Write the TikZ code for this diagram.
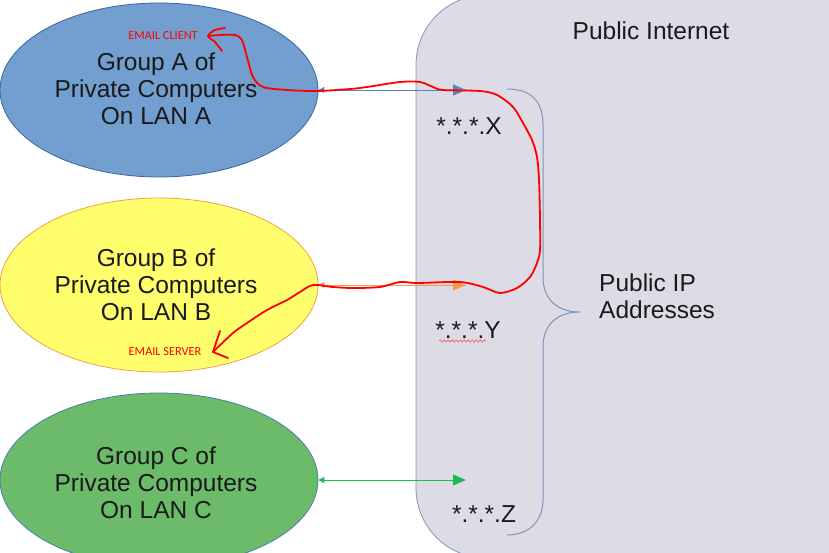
\documentclass[tikz,border=0pt]{standalone}
\usepackage{fontspec}
\setmainfont{Liberation Sans}
\newfontfamily\notefont{Carlito}
\usetikzlibrary{shapes.geometric,arrows.meta,decorations.pathmorphing}
\definecolor{netfill}{HTML}{DDDCE6}
\definecolor{netline}{HTML}{7E95BA}
\definecolor{afill}{HTML}{729FCF}
\definecolor{aline}{HTML}{3465A4}
\definecolor{bfill}{HTML}{FFFF6D}
\definecolor{bline}{HTML}{F0A040}
\definecolor{cfill}{HTML}{6CBB6A}
\definecolor{cline}{HTML}{4A7FA8}
\definecolor{aarrow}{HTML}{5B84BA}
\definecolor{barrow}{HTML}{F5994A}
\definecolor{carrow}{HTML}{1DB954}
\definecolor{txt}{HTML}{1A1A1A}
\begin{document}
\begin{tikzpicture}[x=1pt,y=-1pt,
  grp/.style={ellipse,draw,line width=0.8pt,minimum width=318pt,minimum height=174pt,inner sep=0pt},
  big/.style={font=\fontsize{24.5}{27}\selectfont,text=txt,inner sep=0pt},
  note/.style={font=\notefont\fontsize{12.3}{14}\selectfont,text=red,inner sep=0pt},
  link/.style={line width=1pt,{Triangle[length=6pt,width=6pt]}-{Triangle[length=13pt,width=11pt]}},
  ink/.style={red,line width=1.8pt,line cap=round,line join=round}
]
\useasboundingbox (0,0) rectangle (829,552);
\begin{scope}
\clip (0,0) rectangle (829,552);
\fill[white] (0,0) rectangle (829,552);
% public internet area
\draw[netline,fill=netfill,line width=0.8pt,rounded corners=70pt] (416,-5) rectangle (900,558);
\node[big] (pi) at (651,31) {Public Internet};
% brace
\draw[netline,line width=1pt] (507,89) .. controls (530,89) and (543,100) .. (543,125) -- (543,277)
  .. controls (543,300) and (558,312) .. (580,312)
  .. controls (558,312) and (543,324) .. (543,347) -- (543,500)
  .. controls (543,520) and (530,535) .. (507,535);
\node[big,anchor=west,align=left] (pip) at (599,296) {Public IP\\Addresses};
% groups
\node[grp,fill=afill,draw=aline] (A) at (159,90) {};
\node[grp,fill=bfill,draw=bline] (B) at (159,285) {};
\node[grp,fill=cfill,draw=cline] (C) at (159,480) {};
\node[big,align=center] (ta) at (156,89) {Group A of\\Private Computers\\On LAN A};
\node[big,align=center] (tb) at (156,285) {Group B of\\Private Computers\\On LAN B};
\node[big,align=center] (tc) at (156,483) {Group C of\\Private Computers\\On LAN C};
% addresses
\node[big] (x) at (469,126) {*.*.*.X};
\node[big] (y) at (468,330) {*.*.*.Y};
\node[big] (z) at (484,514) {*.*.*.Z};
\draw[red!75,line width=0.5pt,decorate,decoration={snake,amplitude=1.2pt,segment length=4pt}] (439,341) -- (486,341);
% links
\coordinate (xa) at (466,90);
\coordinate (xb) at (466,285);
\coordinate (xc) at (466,480);
\draw[link,aarrow] (A.east) -- (xa);
\draw[link,barrow] (B.east) -- (xb);
\draw[link,carrow] (C.east) -- (xc);
% labels
\node[note] (cl) at (163,36) {EMAIL CLIENT};
\node[note] (sv) at (165,352) {EMAIL SERVER};
% red freehand path
\draw[ink] plot[smooth,tension=0.5] coordinates {(208,36) (220,35) (235,35) (242,40) (247,57) (253,77) (263,87) (287,90) (317,91) (350,89) (367,87) (400,82) (420,82) (433,87) (443,90) (480,91) (497,95) (513,107) (523,123) (532,140) (537,157) (539,180) (540,220) (540,250) (537,263) (530,277) (517,288) (500,293) (483,287) (460,282) (417,283) (400,282) (380,287) (353,288) (333,287) (313,285) (300,292) (287,300) (267,310) (247,323) (233,333) (213,352)};
\draw[ink] plot[smooth,tension=0.5] coordinates {(225,28) (215,30) (208,36) (215,42) (222,51)};
\draw[ink] (220,331) -- (213,352) -- (228,358);
\end{scope}
\end{tikzpicture}
\end{document}
